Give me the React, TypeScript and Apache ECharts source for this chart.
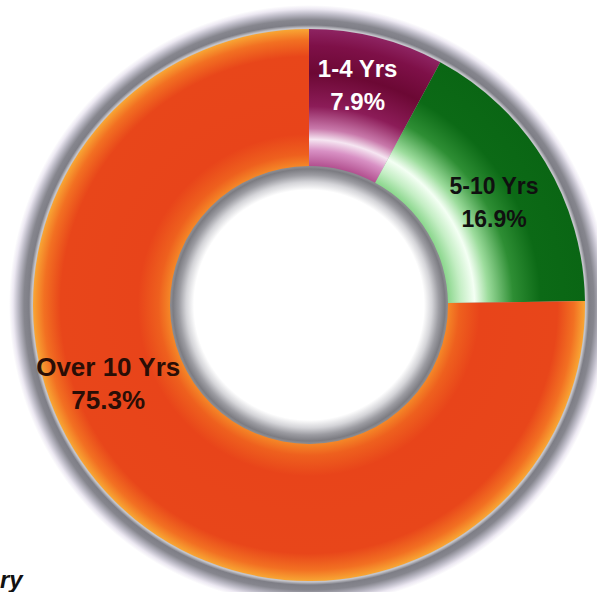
import React, { useEffect, useRef } from "react";
import * as echarts from "echarts";

const categories = ["1-4 Yrs", "5-10 Yrs", "Over 10 Yrs"];
const shares = [7.9, 16.9, 75.3];
const labelColors = ["#ffffff", "#101010", "#2a0e06"];
const labelSizes = [24, 23, 26];
const labelShift = [
  [-3, -16],
  [5, 7],
  [-53, -71],
];

const CX = 309;
const CY = 305;
const R_IN = 139;
const R_OUT = 276;

const grad = (stops: [number, string][]) =>
  new echarts.graphic.RadialGradient(
    CX,
    CY,
    R_OUT,
    stops.map(([offset, color]) => ({ offset, color })),
    true
  );

const sliceFills = [
  grad([
    [0.5, "#b04c8c"],
    [0.56, "#d890c4"],
    [0.6, "#f6e6f2"],
    [0.64, "#c878aa"],
    [0.72, "#8c1c58"],
    [0.84, "#6c0834"],
    [0.94, "#7e1048"],
    [1, "#8e2462"],
  ]),
  grad([
    [0.5, "#86d488"],
    [0.55, "#c4eec4"],
    [0.6, "#f4fff4"],
    [0.65, "#9cdc9c"],
    [0.74, "#2e8e34"],
    [0.84, "#0c6a16"],
    [1, "#0a6614"],
  ]),
  grad([
    [0.5, "#f58a28"],
    [0.545, "#ee601e"],
    [0.62, "#e8441a"],
    [0.9, "#e8461a"],
    [0.96, "#f27022"],
    [1, "#f8a634"],
  ]),
];

export default function App() {
  const ref = useRef<HTMLDivElement>(null);
  useEffect(() => {
    if (!ref.current) return;
    const chart = echarts.init(ref.current, undefined, { renderer: "svg" });
    const RS = R_OUT + 24;
    const R0 = R_IN - 24;
    chart.setOption({
      animation: false,
      backgroundColor: "#ffffff",
      graphic: [
        {
          type: "ring",
          z: 0,
          silent: true,
          shape: { cx: CX, cy: CY, r: RS, r0: R0 },
          style: {
            fill: new echarts.graphic.RadialGradient(
              CX,
              CY,
              RS,
              [
                { offset: R0 / RS, color: "#ffffff" },
                { offset: (R_IN - 16) / RS, color: "#d4d4d8" },
                { offset: (R_IN - 9) / RS, color: "#9c9ca2" },
                { offset: (R_IN - 3) / RS, color: "#7c7c82" },
                { offset: (R_IN - 1) / RS, color: "#8a8a90" },
                { offset: (R_OUT + 1) / RS, color: "#c4c4ca" },
                { offset: (R_OUT + 4) / RS, color: "#7e7e86" },
                { offset: (R_OUT + 9) / RS, color: "#86868e" },
                { offset: (R_OUT + 15) / RS, color: "#bcbac6" },
                { offset: (R_OUT + 20) / RS, color: "#ece8f2" },
                { offset: 1, color: "#ffffff" },
              ],
              true
            ),
          },
        },
        {
          type: "text",
          z: 10,
          left: 0,
          top: 567,
          style: {
            text: "ry",
            fill: "#111111",
            font: "italic bold 24px 'Liberation Sans', Arial, sans-serif",
          },
        },
      ],
      series: [
        {
          type: "pie",
          z: 2,
          center: [CX, CY],
          radius: [R_IN, R_OUT],
          startAngle: 90,
          clockwise: true,
          silent: true,
          itemStyle: { borderWidth: 0 },
          label: {
            show: true,
            position: "inside",
            formatter: "{b}\n{c}%",
            fontFamily: "'Liberation Sans', Arial, sans-serif",
            fontWeight: "bold",
            lineHeight: 33,
          },
          labelLine: { show: false },
          labelLayout: (params: any) => ({
            dx: labelShift[params.dataIndex][0],
            dy: labelShift[params.dataIndex][1],
          }),
          data: categories.map((name, i) => ({
            name,
            value: shares[i],
            itemStyle: { color: sliceFills[i] },
            label: { color: labelColors[i], fontSize: labelSizes[i] },
          })),
        },
      ],
    });
    return () => chart.dispose();
  }, []);
  return (
    <div
      ref={ref}
      style={{ position: "absolute", left: 0, top: 0, width: 597, height: 592 }}
    />
  );
}
